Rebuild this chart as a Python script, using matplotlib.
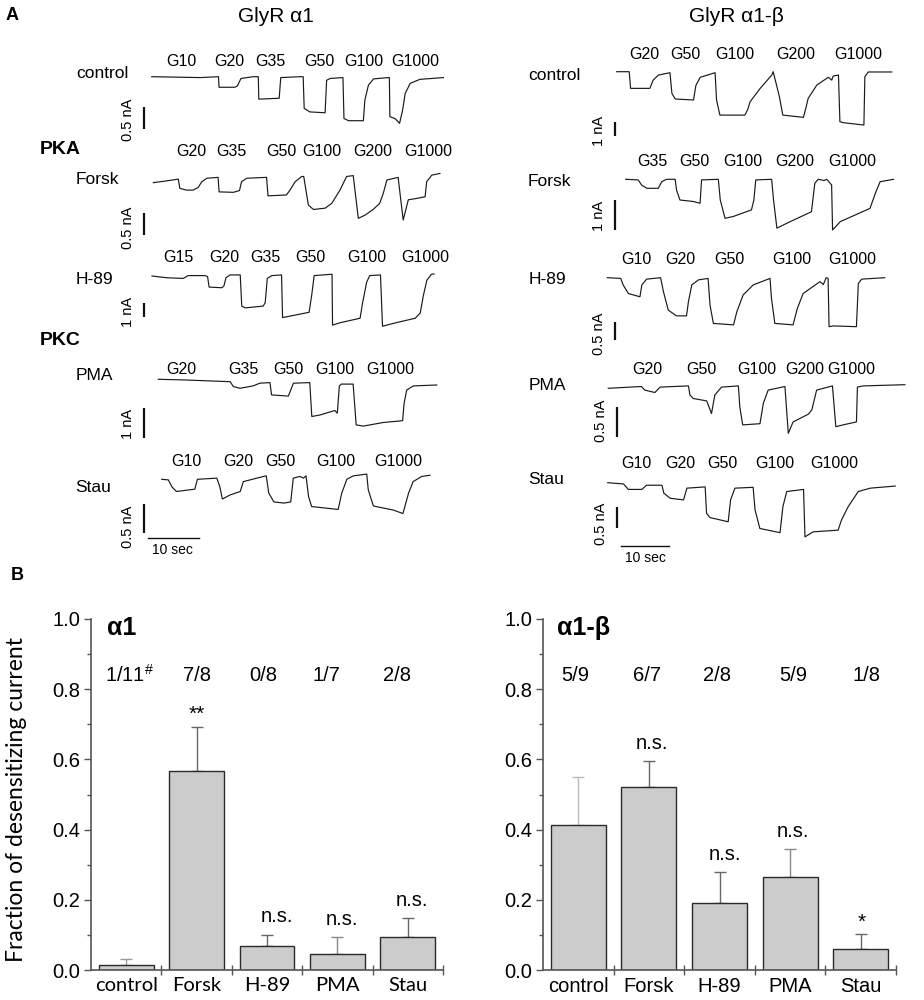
import matplotlib
matplotlib.use('Agg')
import matplotlib.pyplot as plt

plt.rcParams['font.family'] = ['Liberation Sans', 'DejaVu Sans']
plt.rcParams['mathtext.fontset'] = 'custom'
plt.rcParams['mathtext.rm'] = 'Liberation Sans'

# ---------------- Panel A data: traces (time in s, current in nA) ----------------
# GlyR alpha1
a1_ctrl_t = [0, 9.5, 13.1, 13.2, 16.3, 16.8, 17.5, 19.9, 20.9, 21.0, 25.0, 25.3, 29.1, 29.7, 29.9, 31.0, 34.0, 34.3, 35.0,
             37.5, 37.7, 38.6, 41.5, 41.8, 42.5, 43.5, 46.4, 46.6, 46.7, 47.7, 48.6, 49.2, 49.7, 50.7, 52.6, 57.2]
a1_ctrl_i = [0, -0.02, 0, -0.24, -0.24, -0.21, -0.04, 0, 0, -0.51, -0.49, -0.02, 0, 0, -0.72, -0.80, -0.82, -0.08, -0.04,
             -0.02, -0.95, -1.0, -1.0, -0.53, -0.19, -0.05, -0.02, -0.02, -0.91, -0.95, -1.06, -0.76, -0.38, -0.15, -0.06, -0.02]
a1_ctrl_lab = ['G10', 'G20', 'G35', 'G50', 'G100', 'G1000']
a1_ctrl_lt = [5.9, 15.2, 23.2, 32.9, 41.5, 51.6]

a1_forsk_t = [0, 2.6, 4.9, 5.2, 6.5, 7.8, 8.8, 9.5, 10.5, 12.7, 12.9, 15.7, 16.9, 17.3, 18.3, 22.2, 22.5, 26.1, 26.8, 27.8,
              29.1, 29.5, 30.4, 31.4, 33.7, 35.0, 36.6, 37.9, 39.2, 40.2, 41.5, 43.1, 44.4, 45.1, 45.8, 48.0, 49.0, 50.0,
              51.6, 53.3, 53.6, 54.6, 56.2]
a1_forsk_i = [-0.06, -0.02, 0.02, -0.19, -0.23, -0.23, -0.17, -0.04, 0.04, 0.06, -0.27, -0.28, -0.24, -0.04, 0.04, 0.06,
              -0.36, -0.34, -0.23, -0.04, 0.08, 0.08, -0.57, -0.67, -0.64, -0.53, -0.23, 0.08, 0.10, -0.87, -0.80, -0.67,
              -0.53, -0.30, 0.0, 0.06, -0.91, -0.45, -0.42, -0.38, -0.04, 0.11, 0.15]
a1_forsk_lab = ['G20', 'G35', 'G50', 'G100', 'G200', 'G1000']
a1_forsk_lt = [7.5, 15.4, 25.2, 33.0, 43.1, 53.9]

a1_h89_t = [0, 2.9, 6.1, 7.1, 10.4, 10.9, 11.2, 13.7, 14.1, 14.5, 15.3, 17.3, 17.6, 18.3, 21.8, 22.2, 22.6, 23.5, 25.4,
            25.6, 28.4, 30.8, 31.3, 31.8, 35.3, 35.4, 36.9, 40.8, 41.3, 42.1, 42.7, 44.8, 45.2, 47.3, 51.6, 52.6, 53.2,
            53.9, 54.8, 55.3]
a1_h89_i = [0, -0.13, -0.18, 0.03, 0.03, -0.05, -0.82, -0.87, -0.74, -0.13, 0.08, 0.08, -2.23, -2.36, -2.23, -1.97, -0.18,
            0.03, 0.08, -3.08, -2.87, -2.69, -1.46, 0.03, 0.13, -3.64, -3.46, -3.13, -1.97, -0.44, 0.03, 0.08, -3.72,
            -3.51, -3.13, -2.74, -1.46, -0.31, 0.13, 0.15]
a1_h89_lab = ['G15', 'G20', 'G35', 'G50', 'G100', 'G1000']
a1_h89_lt = [5.1, 14.1, 22.2, 31.0, 42.2, 53.5]

a1_pma_t = [0, 4.9, 14.1, 14.7, 16.0, 18.6, 19.9, 21.9, 22.2, 25.5, 26.1, 26.5, 29.7, 30.1, 31.7, 34.6, 35.1, 35.5, 35.9,
            38.2, 38.8, 40.2, 44.1, 47.9, 48.2, 48.7, 50.0, 54.6]
a1_pma_i = [0, -0.02, -0.08, -0.24, -0.30, -0.22, -0.13, -0.11, -0.52, -0.56, -0.30, -0.13, -0.11, -1.24, -1.19, -1.04,
            -1.13, -0.22, -0.16, -0.16, -1.52, -1.56, -1.44, -1.38, -0.80, -0.36, -0.22, -0.19]
a1_pma_lab = ['G20', 'G35', 'G50', 'G100', 'G1000']
a1_pma_lt = [4.6, 16.7, 25.5, 34.6, 45.4]

a1_stau_t = [0, 1.3, 2.0, 2.9, 6.5, 7.0, 10.8, 11.4, 11.9, 13.4, 15.4, 16.0, 20.0, 20.5, 21.0, 22.0, 24.0, 25.3, 25.8,
             27.1, 27.8, 28.3, 28.8, 29.4, 34.6, 35.3, 36.3, 37.6, 40.2, 40.5, 41.5, 45.4, 47.3, 48.4, 49.3, 51.0, 52.6]
a1_stau_i = [0, -0.01, -0.13, -0.21, -0.17, 0, 0.02, -0.13, -0.34, -0.27, -0.21, -0.04, 0.05, 0.06, -0.24, -0.39, -0.41,
             -0.39, 0.02, 0.05, 0.02, 0.06, -0.30, -0.47, -0.52, -0.24, 0, 0.06, 0.09, -0.18, -0.46, -0.53, -0.59, -0.24,
             -0.04, 0.05, 0.07]
a1_stau_lab = ['G10', 'G20', 'G50', 'G100', 'G1000']
a1_stau_lt = [4.9, 15.0, 23.3, 34.2, 46.4]

# GlyR alpha1-beta
b_ctrl_t = [0, 2.6, 2.9, 6.9, 7.6, 8.7, 11.1, 11.5, 12.2, 16.0, 16.5, 17.4, 20.5, 20.8, 21.5, 26.7, 27.3, 27.8, 29.9, 32.3,
            32.6, 33.9, 34.6, 38.9, 39.4, 39.9, 41.7, 44.1, 44.8, 45.1, 46.2, 46.5, 47.2, 51.5, 51.7, 52.4, 57.3]
b_ctrl_i = [0, 0, -1.19, -1.19, -0.60, -0.24, -0.07, -1.55, -1.95, -2.02, -0.98, -0.40, -0.07, -2.02, -3.10, -3.10, -2.70,
            -2.14, -1.19, -0.24, 0, -1.79, -3.10, -3.26, -2.60, -1.90, -0.95, -0.40, -0.60, -0.31, -0.24, -3.57, -3.64,
            -3.81, -0.36, -0.02, -0.02]
b_ctrl_lab = ['G20', 'G50', 'G100', 'G200', 'G1000']
b_ctrl_lt = [5.8, 14.4, 24.7, 37.2, 50.3]

b_forsk_t = [0, 2.6, 3.3, 4.4, 6.8, 7.5, 8.5, 10.3, 10.6, 11.3, 14.1, 15.5, 15.8, 19.3, 19.7, 20.7, 22.4, 26.2, 26.7, 27.1,
             30.4, 30.8, 31.5, 33.5, 38.7, 39.4, 40.1, 41.3, 41.9, 42.9, 43.1, 44.7, 50.9, 52.0, 53.0, 55.8]
b_forsk_i = [0, -0.02, -0.19, -0.30, -0.30, -0.08, 0, 0, -0.36, -0.69, -0.74, -0.80, -0.02, 0, -0.69, -1.30, -1.24, -1.02,
             -0.69, -0.02, 0, -0.69, -1.63, -1.47, -1.08, -0.13, 0, -0.04, 0, -0.19, -1.69, -1.41, -0.97, -0.47, -0.08, 0]
b_forsk_lab = ['G35', 'G50', 'G100', 'G200', 'G1000']
b_forsk_lt = [5.6, 14.3, 24.5, 35.3, 47.1]

b_h89_t = [0, 2.8, 3.3, 4.4, 6.8, 7.2, 8.2, 11.1, 11.7, 12.7, 14.4, 16.5, 16.9, 17.6, 19.0, 21.0, 21.4, 22.1, 26.3, 27.0,
           28.3, 30.4, 33.9, 34.2, 34.9, 38.7, 39.6, 40.8, 44.3, 45.0, 45.6, 46.0, 46.2, 47.1, 51.9, 52.3, 53.0, 57.8]
b_h89_i = [0, -0.02, -0.20, -0.44, -0.53, -0.20, -0.04, 0, -0.39, -0.90, -1.06, -1.06, -0.67, -0.20, -0.06, -0.02, -0.76,
           -1.27, -1.31, -0.94, -0.48, -0.20, -0.02, -0.57, -1.27, -1.31, -0.85, -0.44, -0.11, -0.19, 0, -0.02, -1.36,
           -1.34, -1.36, -0.16, -0.04, 0]
b_h89_lab = ['G10', 'G20', 'G50', 'G100', 'G1000']
b_h89_lt = [6.0, 15.2, 25.4, 38.4, 51.1]

b_pma_t = [0, 6.9, 7.6, 9.7, 10.8, 16.7, 17.0, 17.7, 20.5, 21.5, 22.2, 23.6, 27.1, 27.4, 28.0, 31.6, 32.3, 33.3, 36.8,
           37.5, 38.5, 41.7, 42.4, 43.4, 46.7, 47.4, 48.9, 51.7, 51.9, 53.1, 61.8]
b_pma_i = [0, 0.03, -0.03, -0.07, 0.02, 0.04, -0.11, -0.17, -0.21, -0.42, -0.11, 0.02, 0.04, -0.31, -0.61, -0.59, -0.25,
           -0.03, 0.03, -0.75, -0.56, -0.43, -0.36, -0.03, 0.04, -0.64, -0.61, -0.56, 0.02, 0.04, 0.06]
b_pma_lab = ['G20', 'G50', 'G100', 'G200', 'G1000']
b_pma_lt = [8.1, 19.4, 30.9, 40.9, 50.7]

b_stau_t = [0, 3.3, 4.3, 7.1, 8.1, 11.3, 11.7, 13.0, 15.8, 16.5, 20.3, 20.6, 21.3, 25.1, 25.6, 26.5, 30.3, 30.7, 31.7, 35.9,
            36.5, 37.3, 40.8, 41.1, 42.8, 48.0, 48.7, 50.1, 52.2, 54.7, 59.9]
b_stau_i = [0, -0.03, -0.16, -0.16, -0.06, -0.06, -0.25, -0.37, -0.41, -0.13, -0.10, -0.73, -0.83, -0.93, -0.41, -0.13,
            -0.11, -0.65, -1.09, -1.19, -0.57, -0.21, -0.16, -1.29, -1.17, -1.13, -0.89, -0.57, -0.21, -0.13, -0.08]
b_stau_lab = ['G10', 'G20', 'G50', 'G100', 'G1000']
b_stau_lt = [6.0, 15.1, 23.9, 34.9, 47.2]

# ---------------- Panel B data ----------------
categories = ['control', 'Forsk', 'H-89', 'PMA', 'Stau']
a1_mean = [0.013, 0.568, 0.067, 0.046, 0.095]
a1_err = [0.017, 0.124, 0.034, 0.049, 0.054]
a1_counts = ['1/11$^{\\#}$', '7/8', '0/8', '1/7', '2/8']
a1_sig = ['', '**', 'n.s.', 'n.s.', 'n.s.']
a1b_mean = [0.412, 0.520, 0.192, 0.264, 0.059]
a1b_err = [0.137, 0.075, 0.087, 0.080, 0.043]
a1b_counts = ['5/9', '6/7', '2/8', '5/9', '1/8']
a1b_sig = ['', 'n.s.', 'n.s.', 'n.s.', '*']

W, H = 924, 1000
fig = plt.figure(figsize=(W / 100, H / 100), dpi=100)


def fx(px):
    return px / W


def fy(py):
    return 1 - py / H


def ftext(px, py, s, **kw):
    fig.text(fx(px), fy(py), s, **kw)


def trace(x0, y0, pxs, pxna, t, i, labs, lts, lab_py, bar_px, bar_top, bar_na, bar_txt, bar_txt_py,
          row, row_pos, tbar=None):
    L, R, U, D = 40, 320, 40, 90
    ax = fig.add_axes([fx(x0 - L), fy(y0 + D), (L + R) / W, (U + D) / H])
    ax.set_xlim(-L / pxs, R / pxs)
    ax.set_ylim(-D / pxna, U / pxna)
    ax.axis('off')
    ax.patch.set_alpha(0)
    ax.plot(t, i, color='#1a1a1a', lw=0.85)
    for lab, lt in zip(labs, lts):
        ax.text(lt, (y0 - lab_py) / pxna, lab, ha='center', va='center', fontsize=11.5)
    bx = (bar_px - x0) / pxs
    btop = -(bar_top - y0) / pxna
    ax.plot([bx, bx], [btop, btop - bar_na], color='#111111', lw=1.6, solid_capstyle='butt')
    ftext(bar_px - 16, bar_txt_py, bar_txt, rotation=90, ha='center', va='center', fontsize=10.5)
    ftext(row_pos[0], row_pos[1], row, ha='center', va='center', fontsize=12.5)
    if tbar is not None:
        tx0, ty = tbar
        xs = (tx0 - x0) / pxs
        yb = -(ty - y0) / pxna
        ax.plot([xs, xs + 10], [yb, yb], color='#111111', lw=1.0)
        ftext(tx0 + 24, ty + 12, '10 sec', ha='center', va='center', fontsize=10)


# Panel A headers
ftext(12, 15, 'A', ha='center', va='center', fontsize=13, fontweight='bold')
ftext(276, 17, 'GlyR \u03b11', ha='center', va='center', fontsize=15)
ftext(736, 17, 'GlyR \u03b11-\u03b2', ha='center', va='center', fontsize=15)
ftext(60, 150, 'PKA', ha='center', va='center', fontsize=14, fontweight='bold')
ftext(60, 340, 'PKC', ha='center', va='center', fontsize=14, fontweight='bold')
ftext(17, 575, 'B', ha='center', va='center', fontsize=13, fontweight='bold')

# Left column (alpha1), 5.1 px per second
trace(151.7, 76.7, 5.1, 44, a1_ctrl_t, a1_ctrl_i, a1_ctrl_lab, a1_ctrl_lt, 62,
      144, 107, 0.5, '0.5 nA', 120, 'control', (102, 73))
trace(153.3, 180, 5.1, 44, a1_forsk_t, a1_forsk_i, a1_forsk_lab, a1_forsk_lt, 152,
      144, 213, 0.5, '0.5 nA', 228, 'Forsk', (97, 180))
trace(152, 276, 5.1, 13.5, a1_h89_t, a1_h89_i, a1_h89_lab, a1_h89_lt, 258,
      144, 303, 1.0, '1 nA', 312, 'H-89', (94, 279))
trace(158.3, 379.3, 5.1, 30, a1_pma_t, a1_pma_i, a1_pma_lab, a1_pma_lt, 370,
      144, 408, 1.0, '1 nA', 424, 'PMA', (94, 375))
trace(161.7, 479.3, 5.1, 58, a1_stau_t, a1_stau_i, a1_stau_lab, a1_stau_lt, 462,
      144, 504, 0.5, '0.5 nA', 527, 'Stau', (93, 487), tbar=(148, 538))

# Right column (alpha1-beta), 4.8 px per second
trace(616.7, 71.7, 4.8, 14, b_ctrl_t, b_ctrl_i, b_ctrl_lab, b_ctrl_lt, 55,
      615, 122, 1.0, '1 nA', 131, 'control', (554, 76))
trace(625.7, 179.3, 4.8, 30, b_forsk_t, b_forsk_i, b_forsk_lab, b_forsk_lt, 162,
      615, 200, 1.0, '1 nA', 216, 'Forsk', (549, 182))
trace(607.3, 277.7, 4.8, 36, b_h89_t, b_h89_i, b_h89_lab, b_h89_lt, 260,
      615, 322, 0.5, '0.5 nA', 334, 'H-89', (547, 280))
trace(608.3, 388.3, 4.8, 60, b_pma_t, b_pma_i, b_pma_lab, b_pma_lt, 369,
      617, 407, 0.5, '0.5 nA', 421, 'PMA', (547, 386))
trace(607.7, 482.7, 4.8, 42, b_stau_t, b_stau_i, b_stau_lab, b_stau_lt, 464,
      617, 507, 0.5, '0.5 nA', 524, 'Stau', (546, 480), tbar=(621, 546))

# ---------------- Panel B ----------------
axc = '#555555'


def bar_panel(rect, means, errs, counts, sigs, title, count_dx, sig_dx, err_colors, tick_font, title_x):
    ax = fig.add_axes(rect)
    x = list(range(len(categories)))
    ax.bar(x, means, width=0.78, color='#cccccc', edgecolor='#2a2a2a', linewidth=1.0, zorder=2)
    for xi, m, e, c in zip(x, means, errs, err_colors):
        ax.errorbar([xi], [m], yerr=[[0], [e]], fmt='none', ecolor=c, elinewidth=1.0,
                    capsize=4.5, capthick=1.0, zorder=1)
    ax.set_xlim(-0.5, 4.5)
    ax.set_ylim(0, 1.0)
    for s in ['top', 'right']:
        ax.spines[s].set_visible(False)
    for s in ['left', 'bottom']:
        ax.spines[s].set_color(axc)
        ax.spines[s].set_linewidth(1.2)
    ax.set_yticks([0, 0.2, 0.4, 0.6, 0.8, 1.0])
    ax.set_yticklabels(['0.0', '0.2', '0.4', '0.6', '0.8', '1.0'], fontsize=14.5)
    ax.set_yticks([0.1, 0.3, 0.5, 0.7, 0.9], minor=True)
    ax.set_xticks(x)
    ax.set_xticklabels(categories, fontsize=14.5, family=tick_font)
    ax.set_xticks([0.5, 1.5, 2.5, 3.5, 4.5], minor=True)
    ax.tick_params(axis='x', which='major', length=0, pad=5)
    ax.tick_params(axis='x', which='minor', direction='inout', length=7, width=1.0, color=axc)
    ax.tick_params(axis='y', which='major', direction='out', length=5, width=1.0, color=axc, pad=3)
    ax.tick_params(axis='y', which='minor', direction='out', length=3, width=1.0, color=axc)
    for xi, c in zip(x, counts):
        ax.text(xi + count_dx[xi], 0.84, c, ha='center', va='center', fontsize=14.5)
    for xi, m, e, s in zip(x, means, errs, sigs):
        if s:
            yy = m + e + (0.035 if '*' in s else 0.05)
            ax.text(xi + sig_dx[xi], yy, s, ha='center', va='center', fontsize=14.5 if '*' not in s else 15)
    ax.text(title_x, 0.975, title, ha='left', va='center', fontsize=18, fontweight='bold')
    return ax


bar_panel([fx(91), fy(970), 352 / W, 351 / H], a1_mean, a1_err, a1_counts, a1_sig, '\u03b11',
          [0.05, 0.0, -0.05, -0.15, -0.15], [0, 0.0, 0.14, 0.06, 0.06],
          ['#999999', '#666666', '#666666', '#888888', '#666666'], 'Lato', -0.27)
bar_panel([fx(543), fy(970), 353 / W, 351 / H], a1b_mean, a1b_err, a1b_counts, a1b_sig, '\u03b11-\u03b2',
          [-0.05, -0.02, -0.03, 0.04, 0.08], [0, 0.05, 0.08, 0.04, 0.02],
          ['#bbbbbb', '#666666', '#666666', '#888888', '#666666'], 'Liberation Sans', -0.3)

ftext(17, 799, 'Fraction of desensitizing current', rotation=90, ha='center', va='center',
      fontsize=16.5, family='Lato')

fig.savefig('out.png', dpi=100)
